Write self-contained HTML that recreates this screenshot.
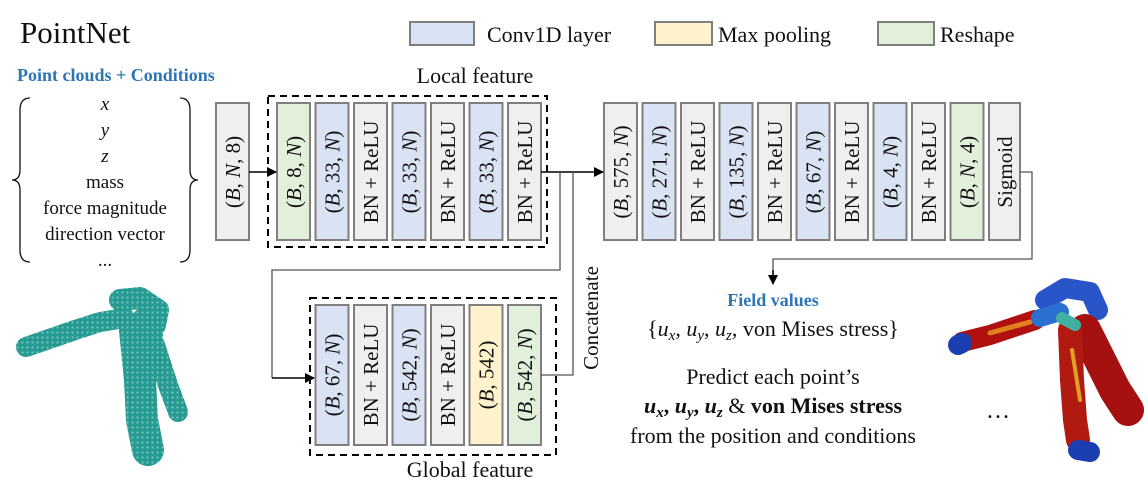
<!DOCTYPE html>
<html><head><meta charset="utf-8"><style>
html,body{margin:0;padding:0;background:#fff;}
svg{display:block;}
text{font-family:"Liberation Serif",serif;fill:#111;}
.b{stroke:#7f7f7f;stroke-width:2;}
.g{fill:#efefef}.bl{fill:#dae3f3}.gr{fill:#e2efda}.y{fill:#fff2cc}
.t{font-size:21px;}
.ln{stroke:#555;stroke-width:1.3;fill:none;}
</style></head><body>
<svg width="1148" height="500" viewBox="0 0 1148 500" xmlns="http://www.w3.org/2000/svg">
<defs><marker id="ar" markerWidth="10" markerHeight="10" refX="9" refY="5" orient="auto" markerUnits="userSpaceOnUse"><path d="M0,0 L10,5 L0,10 z" fill="#000"/></marker>
<pattern id="dots" width="5" height="5" patternUnits="userSpaceOnUse"><rect width="5" height="5" fill="#279a92"/><circle cx="2.5" cy="2.5" r="1.1" fill="#6fc7bd"/></pattern></defs>

<text x="20" y="43" font-size="31">PointNet</text>
<text x="17" y="81" font-size="18" font-weight="bold" style="fill:#2e75b6">Point clouds + Conditions</text>

<!-- legend -->
<rect x="410" y="22" width="64" height="23" class="b bl"/><text x="487" y="42" font-size="22">Conv1D layer</text>
<rect x="655" y="22" width="57" height="23" class="b y"/><text x="718" y="42" font-size="22">Max pooling</text>
<rect x="878" y="22" width="56" height="23" class="b gr"/><text x="940" y="42" font-size="22">Reshape</text>

<!-- input list -->
<g font-size="19" text-anchor="middle">
<text x="105" y="110" font-style="italic">x</text>
<text x="105" y="136" font-style="italic">y</text>
<text x="105" y="162" font-style="italic">z</text>
<text x="105" y="188">mass</text>
<text x="105" y="214">force magnitude</text>
<text x="105" y="240">direction vector</text>
<text x="105" y="266">...</text>
</g>
<path d="M30,98 Q20,98 20,110 L20,170 Q20,180 12,180 Q20,180 20,190 L20,250 Q20,262 30,262" class="ln" style="stroke:#111"/>
<path d="M180,98 Q190,98 190,110 L190,170 Q190,180 198,180 Q190,180 190,190 L190,250 Q190,262 180,262" class="ln" style="stroke:#111"/>

<!-- first box -->
<rect x="216" y="103" width="33" height="137" class="b g"/>
<text class="t" transform="translate(240,172) rotate(-90)" text-anchor="middle">(<tspan font-style="italic">B</tspan>, <tspan font-style="italic">N</tspan>, 8)</text>

<!-- local group -->
<text x="475" y="83" font-size="22" text-anchor="middle">Local feature</text>
<rect x="268" y="96" width="279" height="151" fill="none" stroke="#000" stroke-width="2" stroke-dasharray="7,5"/>
<g>
<rect x="277" y="103" width="33" height="137" class="b gr"/>
<rect x="315.5" y="103" width="33" height="137" class="b bl"/>
<rect x="354" y="103" width="33" height="137" class="b g"/>
<rect x="392.5" y="103" width="33" height="137" class="b bl"/>
<rect x="431" y="103" width="33" height="137" class="b g"/>
<rect x="469.5" y="103" width="33" height="137" class="b bl"/>
<rect x="508" y="103" width="33" height="137" class="b g"/>
</g>
<g class="t" text-anchor="middle">
<text transform="translate(301,172) rotate(-90)">(<tspan font-style="italic">B</tspan>, 8, <tspan font-style="italic">N</tspan>)</text>
<text transform="translate(339.5,172) rotate(-90)">(<tspan font-style="italic">B</tspan>, 33, <tspan font-style="italic">N</tspan>)</text>
<text transform="translate(378,172) rotate(-90)">BN + ReLU</text>
<text transform="translate(416.5,172) rotate(-90)">(<tspan font-style="italic">B</tspan>, 33, <tspan font-style="italic">N</tspan>)</text>
<text transform="translate(455,172) rotate(-90)">BN + ReLU</text>
<text transform="translate(493.5,172) rotate(-90)">(<tspan font-style="italic">B</tspan>, 33, <tspan font-style="italic">N</tspan>)</text>
<text transform="translate(532,172) rotate(-90)">BN + ReLU</text>
</g>

<!-- right chain -->
<g>
<rect x="604" y="103" width="33" height="137" class="b g"/>
<rect x="642.5" y="103" width="33" height="137" class="b bl"/>
<rect x="681" y="103" width="33" height="137" class="b g"/>
<rect x="719.5" y="103" width="33" height="137" class="b bl"/>
<rect x="758" y="103" width="33" height="137" class="b g"/>
<rect x="796.5" y="103" width="33" height="137" class="b bl"/>
<rect x="835" y="103" width="33" height="137" class="b g"/>
<rect x="873.5" y="103" width="33" height="137" class="b bl"/>
<rect x="912" y="103" width="33" height="137" class="b g"/>
<rect x="950.5" y="103" width="33" height="137" class="b gr"/>
<rect x="989" y="103" width="31" height="137" class="b g"/>
</g>
<g class="t" text-anchor="middle">
<text transform="translate(628,172) rotate(-90)">(<tspan font-style="italic">B</tspan>, 575, <tspan font-style="italic">N</tspan>)</text>
<text transform="translate(666.5,172) rotate(-90)">(<tspan font-style="italic">B</tspan>, 271, <tspan font-style="italic">N</tspan>)</text>
<text transform="translate(705,172) rotate(-90)">BN + ReLU</text>
<text transform="translate(743.5,172) rotate(-90)">(<tspan font-style="italic">B</tspan>, 135, <tspan font-style="italic">N</tspan>)</text>
<text transform="translate(782,172) rotate(-90)">BN + ReLU</text>
<text transform="translate(820.5,172) rotate(-90)">(<tspan font-style="italic">B</tspan>, 67, <tspan font-style="italic">N</tspan>)</text>
<text transform="translate(859,172) rotate(-90)">BN + ReLU</text>
<text transform="translate(897.5,172) rotate(-90)">(<tspan font-style="italic">B</tspan>, 4, <tspan font-style="italic">N</tspan>)</text>
<text transform="translate(936,172) rotate(-90)">BN + ReLU</text>
<text transform="translate(974.5,172) rotate(-90)">(<tspan font-style="italic">B</tspan>, <tspan font-style="italic">N</tspan>, 4)</text>
<text transform="translate(1012,172) rotate(-90)">Sigmoid</text>
</g>

<!-- global group -->
<rect x="310" y="298" width="246" height="157" fill="none" stroke="#000" stroke-width="2" stroke-dasharray="7,5"/>
<text x="470" y="477" font-size="22" text-anchor="middle">Global feature</text>
<g>
<rect x="315.5" y="305" width="33" height="140" class="b bl"/>
<rect x="354" y="305" width="33" height="140" class="b g"/>
<rect x="392.5" y="305" width="33" height="140" class="b bl"/>
<rect x="431" y="305" width="33" height="140" class="b g"/>
<rect x="469.5" y="305" width="33" height="140" class="b y"/>
<rect x="508" y="305" width="33" height="140" class="b gr"/>
</g>
<g class="t" text-anchor="middle">
<text transform="translate(339.5,375) rotate(-90)">(<tspan font-style="italic">B</tspan>, 67, <tspan font-style="italic">N</tspan>)</text>
<text transform="translate(378,375) rotate(-90)">BN + ReLU</text>
<text transform="translate(416.5,375) rotate(-90)">(<tspan font-style="italic">B</tspan>, 542, <tspan font-style="italic">N</tspan>)</text>
<text transform="translate(455,375) rotate(-90)">BN + ReLU</text>
<text transform="translate(493.5,375) rotate(-90)">(<tspan font-style="italic">B</tspan>, 542)</text>
<text transform="translate(532,375) rotate(-90)">(<tspan font-style="italic">B</tspan>, 542, <tspan font-style="italic">N</tspan>)</text>
</g>

<!-- connectors -->
<line x1="249" y1="172" x2="276" y2="172" stroke="#000" stroke-width="1.5" marker-end="url(#ar)"/>
<line x1="541" y1="172" x2="603" y2="172" stroke="#000" stroke-width="1.5" marker-end="url(#ar)"/>
<polyline points="560,172 560,270 272,270 272,378" class="ln"/>
<line x1="272" y1="378" x2="314" y2="378" stroke="#000" stroke-width="1.5" marker-end="url(#ar)"/>
<polyline points="541,375 573,375 573,172" class="ln"/>
<text transform="translate(598,318) rotate(-90)" font-size="21" text-anchor="middle">Concatenate</text>
<polyline points="1020,172 1032,172 1032,259 773,259 773,275" class="ln"/>
<line x1="773" y1="270" x2="773" y2="284" stroke="#000" stroke-width="1.5" marker-end="url(#ar)"/>

<!-- output text -->
<text x="773" y="306" font-size="18" font-weight="bold" text-anchor="middle" style="fill:#2e75b6">Field values</text>
<text x="773" y="336" font-size="22" text-anchor="middle">{<tspan font-style="italic">u<tspan font-size="15" dy="4">x</tspan></tspan><tspan dy="-4">, </tspan><tspan font-style="italic">u<tspan font-size="15" dy="4">y</tspan></tspan><tspan dy="-4">, </tspan><tspan font-style="italic">u<tspan font-size="15" dy="4">z</tspan></tspan><tspan dy="-4">, von Mises stress}</tspan></text>
<text x="773" y="384" font-size="22" text-anchor="middle">Predict each point’s</text>
<text x="773" y="413" font-size="22" text-anchor="middle" font-weight="bold"><tspan font-style="italic">u<tspan font-size="15" dy="4">x</tspan></tspan><tspan dy="-4">, </tspan><tspan font-style="italic">u<tspan font-size="15" dy="4">y</tspan></tspan><tspan dy="-4">, </tspan><tspan font-style="italic">u<tspan font-size="15" dy="4">z</tspan></tspan><tspan dy="-4" font-weight="normal"> &amp; </tspan><tspan>von Mises stress</tspan></text>
<text x="773" y="443" font-size="22" text-anchor="middle">from the position and conditions</text>
<text x="998" y="418" font-size="24" text-anchor="middle">…</text>

<!-- teal point cloud -->
<g stroke="url(#dots)" stroke-linecap="round" stroke-linejoin="round" fill="none">
<polyline points="26,347 55,337 75,330 100,322 125,318" stroke-width="20"/>
<polyline points="120,300 140,298 158,310 155,325" stroke-width="22"/>
<polyline points="135,330 140,380 142,420 148,450" stroke-width="32"/>
<polyline points="155,345 168,385 178,412" stroke-width="20"/>
<polyline points="150,335 145,320" stroke-width="26"/>
</g>

<!-- colored cloud -->
<g stroke-linecap="round" stroke-linejoin="round" fill="none">
<polyline points="962,342 990,335 1020,325 1035,320" stroke="#b01010" stroke-width="20"/>
<polyline points="990,333 1030,322" stroke="#e08020" stroke-width="5"/>
<polyline points="1045,300 1065,288 1090,292 1098,310" stroke="#2a55c8" stroke-width="20"/>
<polyline points="1040,318 1060,312" stroke="#2a70d0" stroke-width="18"/>
<polyline points="1085,330 1100,360 1115,390 1128,410" stroke="#a51010" stroke-width="32"/>
<polyline points="1070,330 1072,380 1075,420 1078,440" stroke="#b01a10" stroke-width="24"/>
<polyline points="1072,350 1080,400" stroke="#e0a020" stroke-width="4"/>
<polyline points="1078,450 1090,452" stroke="#1b3fb0" stroke-width="20"/>
<polyline points="958,345 962,343" stroke="#1b3fb0" stroke-width="20"/>
<polyline points="1062,318 1075,325" stroke="#40b0a0" stroke-width="12"/>
</g>
</svg>
</body></html>
